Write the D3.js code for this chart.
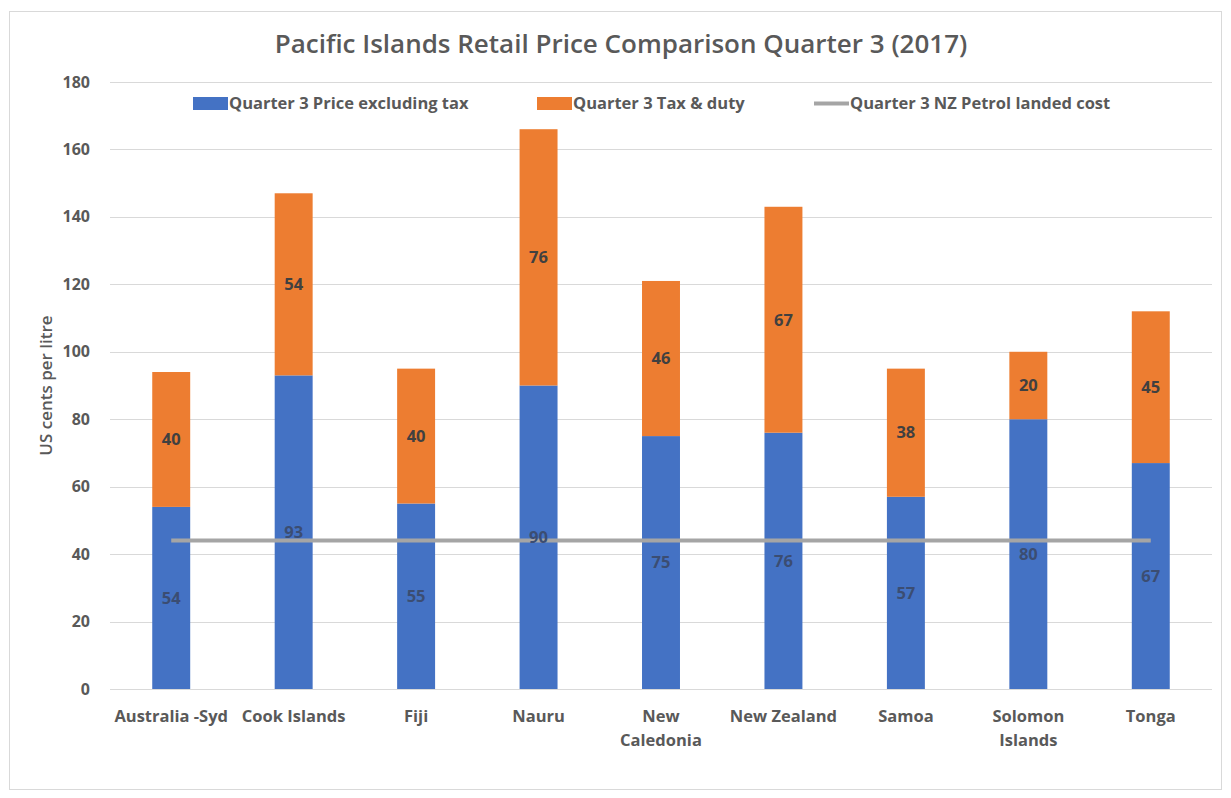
<!DOCTYPE html>
<html>
<head>
<meta charset="utf-8">
<script src="https://cdn.jsdelivr.net/npm/d3@7"></script>
<style>
  body { margin: 0; background: #fff; }
  text { font-family: "Open Sans", Lato, sans-serif; }
</style>
</head>
<body>
<div class="chart"></div>
<script>
const categories = ["Australia -Syd", "Cook Islands", "Fiji", "Nauru", "New Caledonia", "New Zealand", "Samoa", "Solomon Islands", "Tonga"];
const xTickLines = [["Australia -Syd"], ["Cook Islands"], ["Fiji"], ["Nauru"], ["New", "Caledonia"], ["New Zealand"], ["Samoa"], ["Solomon", "Islands"], ["Tonga"]];
const priceExTax = [54, 93, 55, 90, 75, 76, 57, 80, 67];
const taxDuty = [40, 54, 40, 76, 46, 67, 38, 20, 45];
const landedCost = [44, 44, 44, 44, 44, 44, 44, 44, 44];
const yTicks = [0, 20, 40, 60, 80, 100, 120, 140, 160, 180];
const seriesNames = ["Quarter 3 Price excluding tax", "Quarter 3 Tax & duty", "Quarter 3 NZ Petrol landed cost"];

const w = 1231, h = 798;
const plotLeft = 110, plotRight = 1212, plotTop = 82, plotBottom = 689;

var svg = d3.select(".chart").append("svg")
    .attr("width", w)
    .attr("height", h);

// chart frame
svg.append("rect")
   .attr("x", 9.5).attr("y", 11.5)
   .attr("width", 1212).attr("height", 778)
   .attr("fill", "#fff")
   .attr("stroke", "#d9d9d9");

var xScale = d3.scaleBand().domain(categories).range([plotLeft, plotRight])
    .paddingInner(0.69).paddingOuter(0.345);
var yScale = d3.scaleLinear().domain([0, 180]).range([plotBottom, plotTop]);

// gridlines
svg.append("g").selectAll("line")
   .data(yTicks)
   .enter().append("line")
   .attr("x1", plotLeft).attr("x2", plotRight)
   .attr("y1", d => Math.round(yScale(d)) + 0.5)
   .attr("y2", d => Math.round(yScale(d)) + 0.5)
   .attr("stroke", "#d9d9d9")
   .attr("stroke-width", 1);

// y tick labels
svg.append("g").selectAll("text")
   .data(yTicks)
   .enter().append("text")
   .attr("x", 90)
   .attr("y", d => yScale(d))
   .attr("dy", "0.35em")
   .attr("text-anchor", "end")
   .attr("font-size", 16)
   .attr("font-weight", "bold")
   .attr("fill", "#595959")
   .text(d => d);

// y axis title
svg.append("text")
   .attr("transform", "translate(46," + yScale(90) + ") rotate(-90)")
   .attr("text-anchor", "middle")
   .attr("dy", "0.35em")
   .attr("font-size", 17)
   .attr("font-weight", 600)
   .attr("fill", "#595959")
   .text("US cents per litre");

// bars
var stackData = categories.map((c, i) => ({ cat: c, price: priceExTax[i], tax: taxDuty[i] }));
var stack = d3.stack().keys(["price", "tax"])(stackData);
var colors = { price: "#4472c4", tax: "#ed7d31" };

stack.forEach(function (layer) {
  var g = svg.append("g");
  g.selectAll("rect")
   .data(layer)
   .enter().append("rect")
   .attr("x", d => xScale(d.data.cat))
   .attr("y", d => yScale(d[1]))
   .attr("width", xScale.bandwidth())
   .attr("height", d => yScale(d[0]) - yScale(d[1]))
   .attr("fill", colors[layer.key]);
});

// landed cost line
var line = d3.line()
    .x((d, i) => xScale(categories[i]) + xScale.bandwidth() / 2)
    .y(d => yScale(d));
svg.append("path")
   .datum(landedCost)
   .attr("d", line)
   .attr("fill", "none")
   .attr("stroke", "#a5a5a5")
   .attr("stroke-width", 4);

// data labels
stack.forEach(function (layer) {
  svg.append("g").selectAll("text")
   .data(layer)
   .enter().append("text")
   .attr("x", d => xScale(d.data.cat) + xScale.bandwidth() / 2)
   .attr("y", d => yScale((d[0] + d[1]) / 2))
   .attr("dy", "0.35em")
   .attr("text-anchor", "middle")
   .attr("font-size", 16.5)
   .attr("font-weight", "bold")
   .attr("fill", layer.key === "price" ? "#3b4d72" : "#404040")
   .text(d => d[1] - d[0]);
});

// x tick labels
var xl = svg.append("g").selectAll("text")
   .data(categories)
   .enter().append("text")
   .attr("x", d => xScale(d) + xScale.bandwidth() / 2)
   .attr("y", 722)
   .attr("text-anchor", "middle")
   .attr("font-size", 16.5)
   .attr("font-weight", "bold")
   .attr("fill", "#595959");
xl.each(function (d, i) {
  var t = d3.select(this);
  xTickLines[i].forEach(function (s, j) {
    t.append("tspan")
     .attr("x", xScale(d) + xScale.bandwidth() / 2)
     .attr("dy", j === 0 ? 0 : 24)
     .text(s);
  });
});

// title
svg.append("text")
   .attr("x", 621)
   .attr("y", 53)
   .attr("text-anchor", "middle")
   .attr("font-size", 26)
   .attr("font-weight", 600)
   .attr("fill", "#595959")
   .text("Pacific Islands Retail Price Comparison Quarter 3 (2017)");

// legend
var legendX = [193, 537, 814];
var legend = svg.append("g");
seriesNames.forEach(function (name, i) {
  if (i < 2) {
    legend.append("rect")
      .attr("x", legendX[i]).attr("y", 97)
      .attr("width", 35).attr("height", 13)
      .attr("fill", i === 0 ? colors.price : colors.tax);
  } else {
    legend.append("line")
      .attr("x1", legendX[i]).attr("x2", legendX[i] + 35)
      .attr("y1", 103.5).attr("y2", 103.5)
      .attr("stroke", "#a5a5a5").attr("stroke-width", 4);
  }
  legend.append("text")
    .attr("x", legendX[i] + 36)
    .attr("y", 103.5)
    .attr("dy", "0.35em")
    .attr("font-size", 16.5)
    .attr("font-weight", "bold")
    .attr("fill", "#595959")
    .text(name);
});
</script>
</body>
</html>
